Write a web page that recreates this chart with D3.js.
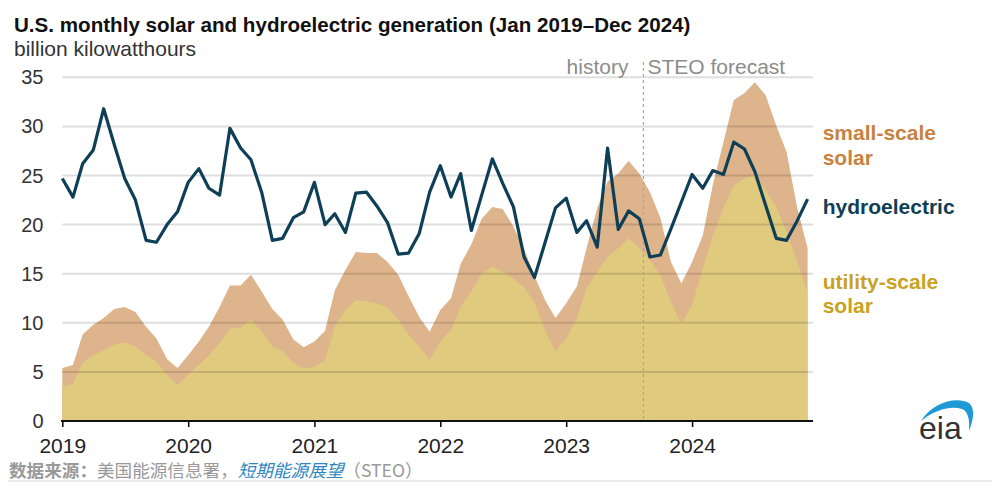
<!DOCTYPE html>
<html><head><meta charset="utf-8">
<script src="https://cdn.jsdelivr.net/npm/d3@7"></script>
<style>
body{margin:0;background:#fff;}
svg{display:block;font-family:"Liberation Sans",Arial,sans-serif;}
</style>
</head><body>
<svg id="chart" width="1000" height="488"></svg>
<script>
// ---- data (billion kWh), monthly Jan 2019 – Dec 2024 ----
const startYear = 2019;
const hydro = [
  24.7, 22.8, 26.2, 27.6, 31.8, 28.1, 24.7, 22.5, 18.4, 18.2, 20.0, 21.3,
  24.3, 25.7, 23.7, 23.0, 29.8, 27.8, 26.6, 23.3, 18.4, 18.6, 20.7, 21.3,
  24.3, 20.0, 21.1, 19.2, 23.2, 23.3, 21.9, 20.2, 17.0, 17.1, 19.1, 23.3,
  26.0, 22.8, 25.2, 19.4, 23.0, 26.7, 24.2, 21.8, 16.7, 14.6, 18.2, 21.7,
  22.7, 19.2, 20.4, 17.7, 27.8, 19.5, 21.4, 20.6, 16.7, 16.9, 19.6, 22.3,
  25.1, 23.7, 25.5, 25.1, 28.4, 27.7, 25.4, 22.0, 18.6, 18.4, 20.4, 22.6
];
const utilitySolar = [
  3.5, 3.8, 5.9, 6.7, 7.2, 7.8, 8.0, 7.6, 6.7, 6.0, 4.7, 3.7,
  4.7, 5.7, 6.7, 7.9, 9.4, 9.5, 10.3, 9.1, 7.6, 7.1, 5.9, 5.4,
  5.5, 6.2, 9.6, 11.3, 12.3, 12.2, 12.0, 11.5, 10.3, 8.8, 7.6, 6.2,
  8.1, 9.3, 11.6, 13.2, 15.0, 15.7, 15.2, 14.5, 13.6, 12.1, 9.2, 7.1,
  8.4, 10.5, 13.5, 15.2, 16.7, 17.6, 18.6, 17.6, 16.4, 14.9, 12.1, 9.9,
  11.8, 15.5, 18.9, 21.7, 24.0, 24.7, 25.0, 23.5, 21.8, 19.3, 16.2, 13.2
];
const smallScaleSolar = [
  1.9, 1.9, 2.9, 3.1, 3.3, 3.6, 3.6, 3.5, 2.9, 2.4, 1.6, 1.7,
  2.0, 2.4, 2.9, 3.7, 4.4, 4.3, 4.6, 4.1, 3.8, 3.2, 2.4, 2.1,
  2.6, 3.0, 3.7, 4.1, 4.9, 4.9, 5.1, 4.7, 4.6, 3.9, 3.0, 2.9,
  3.2, 3.2, 4.4, 4.8, 5.6, 6.1, 6.4, 5.3, 3.9, 2.7, 3.1, 3.4,
  3.6, 3.2, 4.1, 6.5, 7.7, 7.6, 7.9, 7.6, 6.9, 5.8, 4.1, 4.1,
  4.4, 3.4, 5.1, 6.7, 8.7, 8.7, 9.5, 9.7, 8.3, 8.1, 5.5, 4.4
];
const yTicks = [0, 5, 10, 15, 20, 25, 30, 35];
const xTickYears = [2019, 2020, 2021, 2022, 2023, 2024];
const forecastStart = new Date(2023, 7, 13);

const title = "U.S. monthly solar and hydroelectric generation (Jan 2019\u2013Dec 2024)";
const unitLabel = "billion kilowatthours";

// ---- layout ----
const svg = d3.select("#chart");
const x = d3.scaleTime()
  .domain([new Date(2019, 0, 1), new Date(2025, 0, 1)])
  .range([62.3, 818.3]);
const y = d3.scaleLinear().domain([0, 35]).range([421, 77.3]);
const plotRight = 813;

const rows = hydro.map((h, i) => ({
  date: new Date(startYear, i, 1),
  hydro: h,
  util: utilitySolar[i],
  total: utilitySolar[i] + smallScaleSolar[i]
}));

// areas
svg.append("path").datum(rows)
  .attr("fill", "#ddb48c")
  .attr("d", d3.area().x(d => x(d.date)).y0(y(0)).y1(d => y(d.total)));
svg.append("path").datum(rows)
  .attr("fill", "#dfca7e")
  .attr("d", d3.area().x(d => x(d.date)).y0(y(0)).y1(d => y(d.util)));

// gridlines
svg.append("g").selectAll("line").data(yTicks.filter(t => t > 0)).join("line")
  .attr("x1", x(new Date(2019, 0, 1))).attr("x2", plotRight)
  .attr("y1", d => y(d)).attr("y2", d => y(d))
  .attr("stroke", "rgba(0,0,0,0.13)").attr("stroke-width", 2);

// y labels
svg.append("g").selectAll("text").data(yTicks).join("text")
  .attr("x", 43.5).attr("y", d => y(d) + 7)
  .attr("text-anchor", "end").attr("font-size", 20).attr("fill", "#333")
  .text(d => d);

// forecast divider
const fx = x(forecastStart);
svg.append("line").attr("x1", fx).attr("x2", fx).attr("y1", 62).attr("y2", 421)
  .attr("stroke", "#a6a6a6").attr("stroke-width", 1.2).attr("stroke-dasharray", "3,3");
svg.append("text").attr("x", fx - 15).attr("y", 74).attr("text-anchor", "end")
  .attr("font-size", 21).attr("fill", "#8c8c8c").text("history");
svg.append("text").attr("x", fx + 4).attr("y", 74)
  .attr("font-size", 21).attr("fill", "#8c8c8c").text("STEO forecast");

// hydro line
svg.append("path").datum(rows)
  .attr("fill", "none").attr("stroke", "#0e3f56").attr("stroke-width", 3.2)
  .attr("stroke-linejoin", "round")
  .attr("d", d3.line().x(d => x(d.date)).y(d => y(d.hydro)));

// x axis
const xAxis = d3.axisBottom(x)
  .tickValues(xTickYears.map(yy => new Date(yy, 0, 1)))
  .tickFormat(d3.timeFormat("%Y")).tickSize(6).tickSizeOuter(0);
const gx = svg.append("g").attr("transform", "translate(0,421)").call(xAxis);
gx.select(".domain").remove();
gx.selectAll(".tick line").attr("stroke", "#000").attr("stroke-width", 1.5);
gx.selectAll(".tick text").attr("font-size", 21).attr("fill", "#222")
  .attr("font-family", "'Liberation Sans',Arial,sans-serif").attr("dy", null).attr("y", 31.5);
svg.append("line").attr("x1", 61).attr("x2", plotRight).attr("y1", 421).attr("y2", 421)
  .attr("stroke", "#111").attr("stroke-width", 2);

// series labels
const lab = (txt, yy, col) => svg.append("text").attr("x", 822.7).attr("y", yy)
  .attr("font-size", 21).attr("font-weight", "bold").attr("fill", col).text(txt);
lab("small-scale", 139.5, "#c8823f");
lab("solar", 164.5, "#c8823f");
lab("hydroelectric", 213.5, "#0e3f56");
lab("utility-scale", 288.5, "#c9a21e");
lab("solar", 313, "#c9a21e");

// title
svg.append("text").attr("x", 14).attr("y", 31.5).attr("font-size", 20.6)
  .attr("font-weight", "bold").attr("fill", "#111").text(title);
svg.append("text").attr("x", 14).attr("y", 56).attr("font-size", 21)
  .attr("fill", "#333").text(unitLabel);

// source
const src = svg.append("text").attr("x", 9).attr("y", 476.5).attr("font-size", 17.6)
  .attr("font-family", "'Noto Sans CJK SC',sans-serif").attr("fill", "#999");
src.append("tspan").attr("font-weight", "bold").text("数据来源：");
src.append("tspan").text("美国能源信息署，");
src.append("tspan").attr("fill", "#2f86c0").attr("font-style", "italic").text("短期能源展望");
src.append("tspan").text("（STEO）");
svg.append("line").attr("x1", 8).attr("x2", 992).attr("y1", 481).attr("y2", 481)
  .attr("stroke", "#e3e3e3").attr("stroke-width", 1.5);

// eia logo
svg.append("path")
  .attr("d", "M921,421 C932,403 956,396 969,403 C975,408 974,419 969,431 C970,420 968,411 962,409 C950,405 933,411 921,421 Z")
  .attr("fill", "#1e9ad6");
svg.append("text").attr("x", 919).attr("y", 439).attr("font-size", 32)
  .attr("fill", "#333").attr("font-family", "'Liberation Sans',Arial,sans-serif").text("eia");
</script>
</body></html>
